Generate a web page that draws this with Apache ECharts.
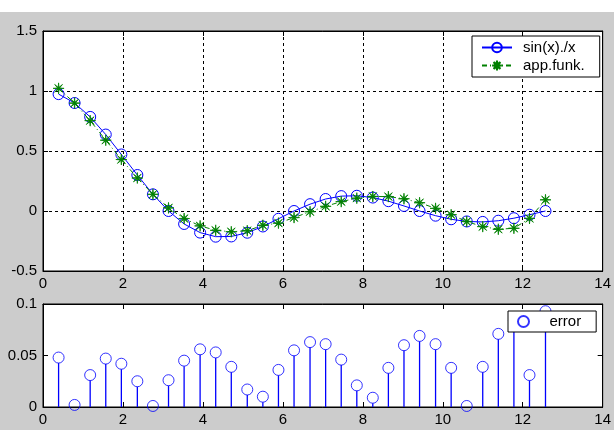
<!DOCTYPE html>
<html><head><meta charset="utf-8">
<script src="https://cdn.jsdelivr.net/npm/echarts@6/dist/echarts.min.js"></script>
<style>html,body{margin:0;padding:0;background:#fff}#c{width:614px;height:430px}</style>
</head><body><div id="c"></div>
<script>
const xValues = [0.39, 0.79, 1.18, 1.57, 1.96, 2.36, 2.75, 3.14, 3.53, 3.93, 4.32, 4.71, 5.11, 5.50, 5.89, 6.28,
                 6.68, 7.07, 7.46, 7.85, 8.25, 8.64, 9.03, 9.42, 9.82, 10.21, 10.60, 11.00, 11.39, 11.78, 12.17, 12.57];
const sincValues = [0.974, 0.900, 0.784, 0.637, 0.471, 0.300, 0.139, 0.000, -0.108, -0.180, -0.214, -0.212, -0.181, -0.129, -0.065, 0.000,
                    0.057, 0.100, 0.124, 0.127, 0.112, 0.082, 0.042, 0.000, -0.039, -0.069, -0.087, -0.091, -0.081, -0.060, -0.031, 0.000];
const approxValues = [1.022, 0.899, 0.753, 0.590, 0.429, 0.275, 0.139, 0.026, -0.063, -0.124, -0.161, -0.173, -0.164, -0.119, -0.101, -0.055,
                      -0.006, 0.039, 0.078, 0.107, 0.121, 0.120, 0.102, 0.069, 0.022, -0.031, -0.088, -0.130, -0.152, -0.144, -0.062, 0.093];
const errorValues = [0.048, 0.002, 0.031, 0.047, 0.042, 0.025, 0.001, 0.026, 0.045, 0.056, 0.053, 0.039, 0.017, 0.010, 0.036, 0.055,
                     0.063, 0.061, 0.046, 0.021, 0.009, 0.038, 0.060, 0.069, 0.061, 0.038, 0.001, 0.039, 0.071, 0.084, 0.031, 0.093];
const xTicks = [0, 2, 4, 6, 8, 10, 12, 14];
const yTicksTop = [-0.5, 0, 0.5, 1, 1.5];
const yTicksBottom = [0, 0.05, 0.1];
const seriesNames = ['sin(x)./x', 'app.funk.', 'error'];

const FONT = '"Liberation Sans", Arial, sans-serif';
const BLUE = '#0000ff', GREEN = '#008000';
const MARK = 11;
const starPath = 'path://M10,0 L10.765,8.152 L17.071,2.929 L11.848,9.235 L20,10 L11.848,10.765 L17.071,17.071 L10.765,11.848 L10,20 L9.235,11.848 L2.929,17.071 L8.152,10.765 L0,10 L8.152,9.235 L2.929,2.929 L9.235,8.152 Z';

function span(t) { return { min: t[0], max: t[t.length - 1], interval: t[1] - t[0] }; }
function axis(gridIndex, ticks, opts) {
  const s = span(ticks);
  return Object.assign({
    type: 'value', gridIndex: gridIndex, min: s.min, max: s.max, interval: s.interval,
    axisLine: { show: true, onZero: false, lineStyle: { color: '#000', width: 1 } },
    axisTick: { show: true, inside: true, length: 5, lineStyle: { color: '#000' } },
    axisLabel: { show: true, color: '#000', fontFamily: FONT, fontSize: 15, margin: 6 },
    splitLine: { show: false }
  }, opts || {});
}
const gridDash = { show: true, lineStyle: { color: '#000', width: 1, type: [3, 3] } };
const noLabel = { show: false };
const xLabel = { color: '#000', fontFamily: FONT, fontSize: 15, margin: 5 };

function renderStem(params, api) {
  const base = api.coord([api.value(0), 0]);
  const top = api.coord([api.value(0), api.value(1)]);
  const yTop = Math.min(base[1], top[1] + MARK / 2);
  return {
    type: 'line',
    shape: { x1: base[0], y1: base[1], x2: base[0], y2: yTop },
    style: { stroke: BLUE, lineWidth: 1.3 }
  };
}

const chart = echarts.init(document.getElementById('c'), null, { renderer: 'canvas' });
chart.setOption({
  backgroundColor: '#cccccc',
  animation: false,
  grid: [
    { left: 43, top: 31, width: 570, height: 240, show: true, backgroundColor: '#fff', borderColor: '#000', borderWidth: 1 },
    { left: 43, top: 304, width: 570, height: 103, show: true, backgroundColor: '#fff', borderColor: '#000', borderWidth: 1 }
  ],
  xAxis: [
    axis(0, xTicks, { position: 'bottom', splitLine: gridDash, axisLabel: xLabel }),
    axis(0, xTicks, { position: 'top', axisLabel: noLabel }),
    axis(1, xTicks, { position: 'bottom', axisLabel: xLabel }),
    axis(1, xTicks, { position: 'top', axisLabel: noLabel })
  ],
  yAxis: [
    axis(0, yTicksTop, { position: 'left', splitLine: gridDash }),
    axis(0, yTicksTop, { position: 'right', axisLabel: noLabel }),
    axis(1, yTicksBottom, { position: 'left' }),
    axis(1, yTicksBottom, { position: 'right', axisLabel: noLabel })
  ],
  legend: [
    {
      data: [seriesNames[0], seriesNames[1]], orient: 'vertical', left: 472, top: 36,
      padding: [4, 15, 4, 9], itemWidth: 30, itemHeight: 12, itemGap: 3,
      backgroundColor: '#fff', borderColor: '#000', borderWidth: 1, selectedMode: false,
      textStyle: { color: '#000', fontFamily: FONT, fontSize: 15, padding: [0, 0, 0, 6] }
    },
    {
      data: [seriesNames[2]], orient: 'vertical', left: 508, top: 311,
      padding: [3, 15, 3, 9], itemWidth: 30, itemHeight: 11,
      backgroundColor: '#fff', borderColor: '#000', borderWidth: 1, selectedMode: false,
      textStyle: { color: '#000', fontFamily: FONT, fontSize: 15, padding: [0, 0, 0, 6] }
    }
  ],
  series: [
    {
      name: seriesNames[0], type: 'line', xAxisIndex: 0, yAxisIndex: 0, z: 3,
      data: xValues.map((x, i) => [x, sincValues[i]]),
      symbol: 'circle', symbolSize: MARK, showAllSymbol: true,
      itemStyle: { color: 'transparent', borderColor: BLUE, borderWidth: 1 },
      lineStyle: { color: BLUE, width: 1 }
    },
    {
      name: seriesNames[1], type: 'line', xAxisIndex: 0, yAxisIndex: 0, z: 4,
      data: xValues.map((x, i) => [x, approxValues[i]]),
      symbol: starPath, symbolSize: 11, showAllSymbol: true,
      itemStyle: { color: GREEN, borderColor: GREEN, borderWidth: 0.8 },
      lineStyle: { color: GREEN, width: 1, type: [5, 3, 1, 3] }
    },
    {
      name: 'stems', type: 'custom', xAxisIndex: 2, yAxisIndex: 2, z: 2,
      data: xValues.map((x, i) => [x, errorValues[i]]),
      renderItem: renderStem, clip: true
    },
    {
      name: seriesNames[2], type: 'scatter', xAxisIndex: 2, yAxisIndex: 2, z: 3,
      data: xValues.map((x, i) => [x, errorValues[i]]),
      symbol: 'circle', symbolSize: MARK,
      itemStyle: { color: 'transparent', borderColor: BLUE, borderWidth: 1 }
    }
  ],
  graphic: [
    { type: 'rect', shape: { x: 0, y: 0, width: 614, height: 12 }, style: { fill: '#fff' }, z: 100 }
  ]
});
</script></body></html>
